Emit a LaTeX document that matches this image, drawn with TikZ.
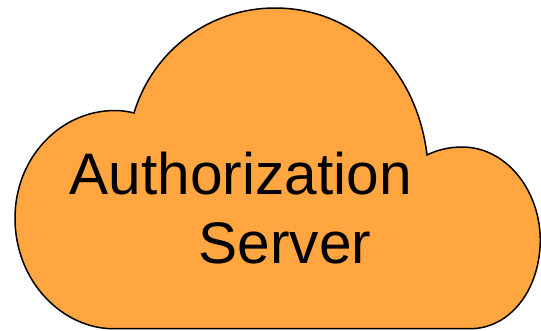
\documentclass[tikz,border=0pt]{standalone}
\usepackage{fontspec}
\setmainfont{Liberation Sans}
\definecolor{cloudfill}{HTML}{FFA640}
\tikzset{cloudshape/.style={draw=black,line width=1.5pt,fill=cloudfill,line join=miter},
  cloudtext/.style={inner sep=0pt,anchor=base west,font=\fontsize{58.6}{69}\selectfont,text=black}}
\begin{document}
\begin{tikzpicture}[x=1pt,y=-1pt]
\useasboundingbox (0,0) rectangle (541,330);
\fill[white] (0,0) rectangle (541,330);
\draw[cloudshape] (134,113)
  .. controls (153,50) and (210,8) .. (275,8)
  .. controls (355,8) and (417,70) .. (427,155)
  .. controls (437,150) and (449,147) .. (462,147)
  .. controls (506,147) and (540,190) .. (540.3,240)
  .. controls (540,290) and (510,328.7) .. (470,328.7)
  -- (113,328.7)
  .. controls (64,328.7) and (15,283) .. (15,218)
  .. controls (15,158) and (60,110.5) .. (115,110.5)
  .. controls (122,110.5) and (128,111.5) .. (134,113) -- cycle;
\node[cloudtext] (authorization) at (69.5,194) {Authorization};
\node[cloudtext] (server) at (198.5,263) {Server};
\end{tikzpicture}
\end{document}
